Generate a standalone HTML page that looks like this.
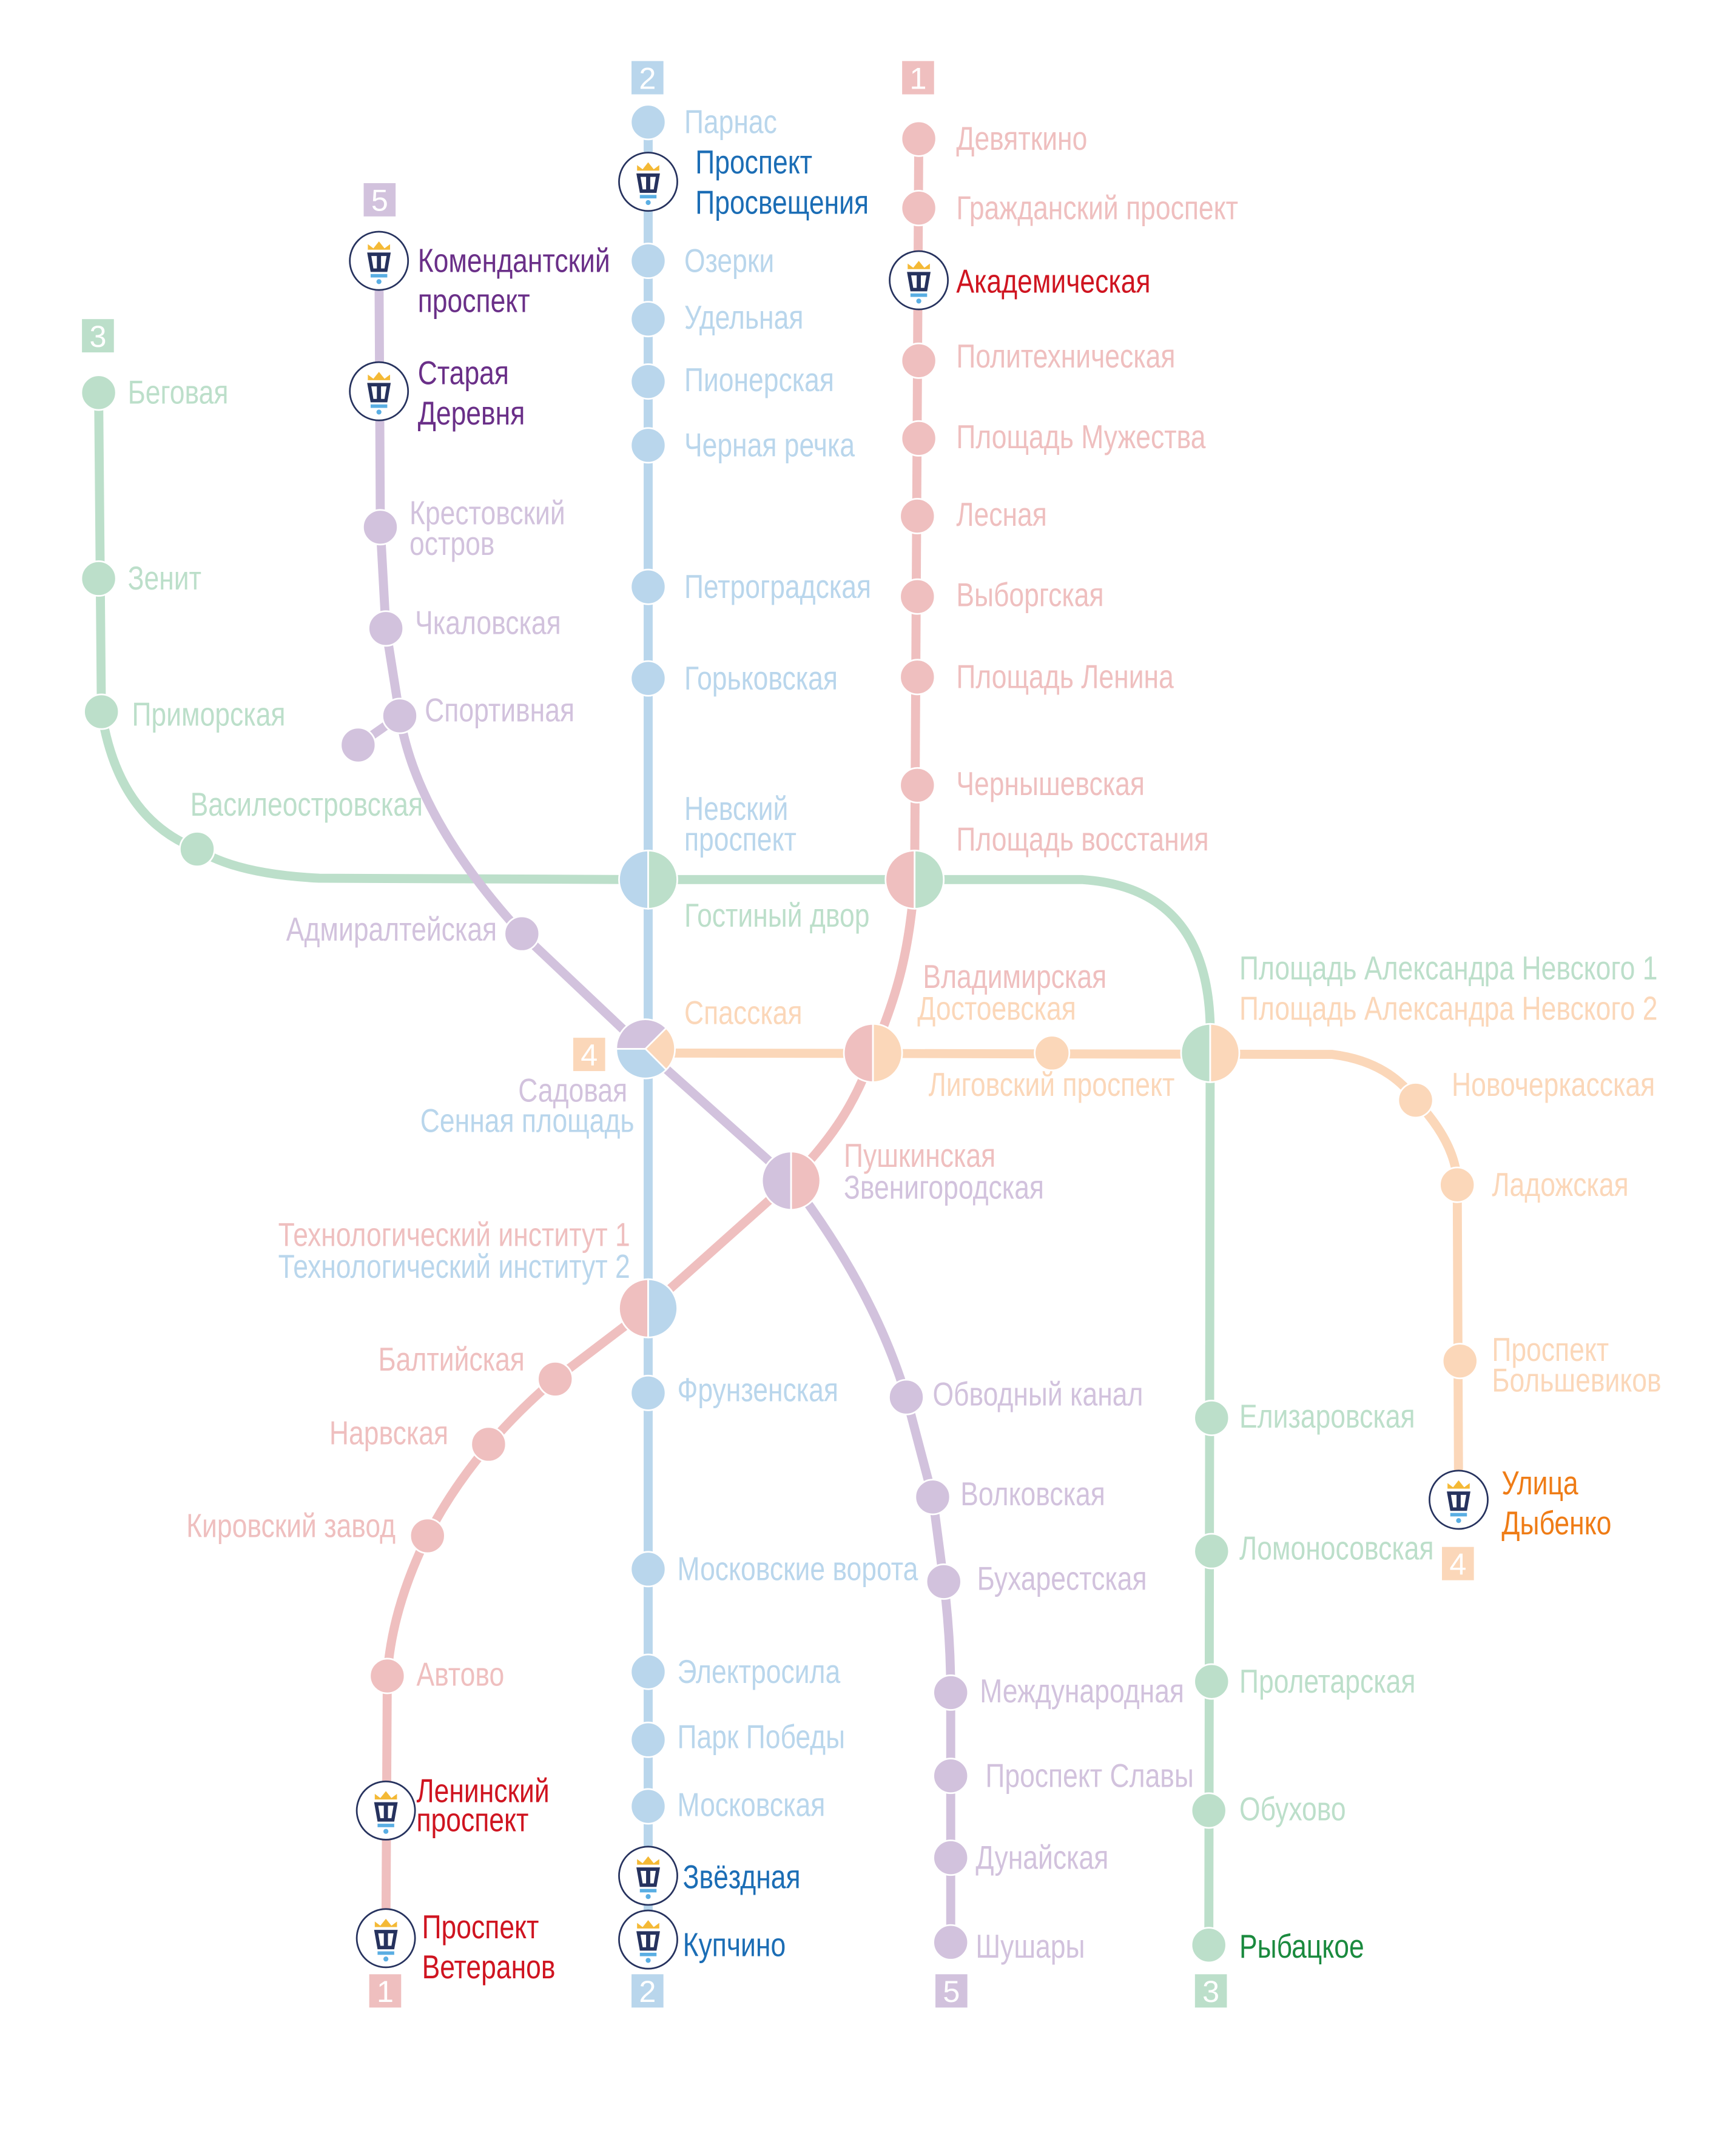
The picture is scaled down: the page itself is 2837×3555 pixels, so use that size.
<!DOCTYPE html>
<html><head><meta charset="utf-8"><style>
html,body{margin:0;padding:0;background:#fff}
svg{display:block}
text{font-family:"Liberation Sans Narrow","Liberation Sans",sans-serif;font-size:24px;transform-box:fill-box;transform-origin:left center;transform:scaleX(.81)}
.b{fill:#b9d6ec}.g{fill:#bcdfca}.r{fill:#efbfbf}.o{fill:#fbd7b9}.p{fill:#d2c2dd}
.B{fill:#1b6db5}.G{fill:#1a8a3e}.R{fill:#cf1420}.O{fill:#ef7c16}.P{fill:#6a2f88}
text.e{text-anchor:end;transform-origin:right center}
text.n{fill:#fff;font-size:22px;text-anchor:middle;transform:none}
</style></head><body>
<svg width="2837" height="3555" viewBox="0 0 1240 1554" xmlns="http://www.w3.org/2000/svg">
<defs>
<g id="ic">
<circle r="21" fill="#fff" stroke="#26325e" stroke-width="1.2"/>
<path d="M-8,-12 L-8,-8 L8,-8 L8,-12 L4,-9 L0,-14 L-4,-9 Z" fill="#f4b935"/>
<path d="M-8.5,-6 L8.5,-6 L6,8 L-6,8 Z M-5.5,-3.5 L-4,5.5 L-1.5,5.5 L-1.5,-3.5 Z M1.5,-3.5 L1.5,5.5 L4,5.5 L5.5,-3.5 Z" fill="#26325e" fill-rule="evenodd"/>
<rect x="-6" y="9.5" width="12" height="2.5" fill="#5aaee3"/>
<circle cx="0" cy="15" r="1.8" fill="#5aaee3"/>
</g>
</defs>
<g fill="none" stroke-width="6.5" stroke-linejoin="round">
<path d="M467,88 L467,1398" stroke="#b9d6ec"/>
<path d="M71,283 L73,513 Q85,590 142,612 Q170,630 230,633 L467,634 L659,634 L780,634 Q870,640 872,740 L871,1402" stroke="#bcdfca"/>
<path d="M662,100 L659,634 C655,690 645,720 629,759 C615,800 595,825 570,851 L467,943 L400,994 Q340,1045 308,1107 Q282,1160 279,1208 L278,1397" stroke="#efbfbf"/>
<path d="M467,759 L960,760 Q1000,765 1020,793 Q1050,825 1050,854 L1051,1081" stroke="#fbd7b9"/>
<path d="M273,188 L274,380 L278,453 L288,516 Q300,590 376,673 L467,759 L570,851 Q630,930 653,1007 L672,1079 L680,1140 Q685,1180 685,1220 L685,1400 M288,516 L258,537" stroke="#d2c2dd"/>
</g>
<g stroke="#fff" stroke-width="1.2">
<g fill="#b9d6ec"><circle cx="467" cy="88" r="12.5"/><circle cx="467" cy="188" r="12.5"/><circle cx="467" cy="230" r="12.5"/><circle cx="467" cy="275" r="12.5"/><circle cx="467" cy="321" r="12.5"/><circle cx="467" cy="423" r="12.5"/><circle cx="467" cy="489" r="12.5"/><circle cx="467" cy="1004" r="12.5"/><circle cx="467" cy="1131" r="12.5"/><circle cx="467" cy="1205" r="12.5"/><circle cx="467" cy="1254" r="12.5"/><circle cx="467" cy="1302" r="12.5"/></g>
<g fill="#efbfbf"><circle cx="662" cy="100" r="12.5"/><circle cx="662" cy="150" r="12.5"/><circle cx="662" cy="260" r="12.5"/><circle cx="662" cy="316" r="12.5"/><circle cx="661" cy="372" r="12.5"/><circle cx="661" cy="430" r="12.5"/><circle cx="661" cy="488" r="12.5"/><circle cx="661" cy="566" r="12.5"/><circle cx="400" cy="994" r="12.5"/><circle cx="352" cy="1041" r="12.5"/><circle cx="308" cy="1107" r="12.5"/><circle cx="279" cy="1208" r="12.5"/></g>
<g fill="#bcdfca"><circle cx="71" cy="283" r="12.5"/><circle cx="71" cy="417" r="12.5"/><circle cx="73" cy="513" r="12.5"/><circle cx="142" cy="612" r="12.5"/><circle cx="873" cy="1022" r="12.5"/><circle cx="873" cy="1118" r="12.5"/><circle cx="873" cy="1212" r="12.5"/><circle cx="871" cy="1305" r="12.5"/><circle cx="871" cy="1402" r="12.5"/></g>
<g fill="#fbd7b9"><circle cx="758" cy="759" r="12.5"/><circle cx="1020" cy="793" r="12.5"/><circle cx="1050" cy="854" r="12.5"/><circle cx="1052" cy="981" r="12.5"/></g>
<g fill="#d2c2dd"><circle cx="274" cy="380" r="12.5"/><circle cx="278" cy="453" r="12.5"/><circle cx="288" cy="516" r="12.5"/><circle cx="258" cy="537" r="12.5"/><circle cx="376" cy="673" r="12.5"/><circle cx="653" cy="1007" r="12.5"/><circle cx="672" cy="1079" r="12.5"/><circle cx="680" cy="1140" r="12.5"/><circle cx="685" cy="1220" r="12.5"/><circle cx="685" cy="1280" r="12.5"/><circle cx="685" cy="1339" r="12.5"/><circle cx="685" cy="1400" r="12.5"/></g>
<path d="M467,613 A21,21 0 0,0 467,655 Z" fill="#b9d6ec"/><path d="M467,613 A21,21 0 0,1 467,655 Z" fill="#bcdfca"/>
<path d="M659,613 A21,21 0 0,0 659,655 Z" fill="#efbfbf"/><path d="M659,613 A21,21 0 0,1 659,655 Z" fill="#bcdfca"/>
<path d="M629,738 A21,21 0 0,0 629,780 Z" fill="#efbfbf"/><path d="M629,738 A21,21 0 0,1 629,780 Z" fill="#fbd7b9"/>
<path d="M872,738 A21,21 0 0,0 872,780 Z" fill="#bcdfca"/><path d="M872,738 A21,21 0 0,1 872,780 Z" fill="#fbd7b9"/>
<path d="M570,830 A21,21 0 0,0 570,872 Z" fill="#d2c2dd"/><path d="M570,830 A21,21 0 0,1 570,872 Z" fill="#efbfbf"/>
<path d="M467,922 A21,21 0 0,0 467,964 Z" fill="#efbfbf"/><path d="M467,922 A21,21 0 0,1 467,964 Z" fill="#b9d6ec"/>
<path d="M465,756 L444,756 A21,21 0 0,1 480,741 Z" fill="#d2c2dd"/>
<path d="M465,756 L480,741 A21,21 0 0,1 480,771 Z" fill="#fbd7b9"/>
<path d="M465,756 L480,771 A21,21 0 0,1 444,756 Z" fill="#b9d6ec"/>
</g>
<use href="#ic" x="467" y="131"/><use href="#ic" x="467" y="1352"/><use href="#ic" x="467" y="1398"/>
<use href="#ic" x="662" y="202"/><use href="#ic" x="278" y="1305"/><use href="#ic" x="278" y="1397"/>
<use href="#ic" x="273" y="188"/><use href="#ic" x="273" y="282"/><use href="#ic" x="1051" y="1081"/>
<rect x="455" y="44" width="23" height="24" fill="#b9d6ec"/><text class="n" x="466.5" y="64">2</text>
<rect x="455" y="1423" width="23" height="24" fill="#b9d6ec"/><text class="n" x="466.5" y="1443">2</text>
<rect x="650" y="44" width="23" height="24" fill="#efbfbf"/><text class="n" x="661.5" y="64">1</text>
<rect x="266" y="1423" width="23" height="24" fill="#efbfbf"/><text class="n" x="277.5" y="1443">1</text>
<rect x="59" y="230" width="23" height="24" fill="#bcdfca"/><text class="n" x="70.5" y="250">3</text>
<rect x="861" y="1423" width="23" height="24" fill="#bcdfca"/><text class="n" x="872.5" y="1443">3</text>
<rect x="262" y="132" width="23" height="24" fill="#d2c2dd"/><text class="n" x="273.5" y="152">5</text>
<rect x="674" y="1423" width="23" height="24" fill="#d2c2dd"/><text class="n" x="685.5" y="1443">5</text>
<rect x="413" y="748" width="23" height="24" fill="#fbd7b9"/><text class="n" x="424.5" y="768">4</text>
<rect x="1039" y="1115" width="23" height="24" fill="#fbd7b9"/><text class="n" x="1050.5" y="1135">4</text>
<text class="b" x="493" y="96">Парнас</text>
<text class="B" x="501" y="125">Проспект</text><text class="B" x="501" y="154">Просвещения</text>
<text class="b" x="493" y="196">Озерки</text>
<text class="b" x="493" y="237">Удельная</text>
<text class="b" x="493" y="282">Пионерская</text>
<text class="b" x="493" y="329">Черная речка</text>
<text class="b" x="493" y="431">Петроградская</text>
<text class="b" x="493" y="497">Горьковская</text>
<text class="b" x="493" y="591">Невский</text><text class="b" x="493" y="613">проспект</text>
<text class="g" x="493" y="668">Гостиный двор</text>
<text class="o" x="493" y="738">Спасская</text>
<text class="p e" x="452" y="794">Садовая</text>
<text class="b e" x="457" y="816">Сенная площадь</text>
<text class="r e" x="454" y="898">Технологический институт 1</text>
<text class="b e" x="454" y="921">Технологический институт 2</text>
<text class="b" x="488" y="1010">Фрунзенская</text>
<text class="b" x="488" y="1139">Московские ворота</text>
<text class="b" x="488" y="1213">Электросила</text>
<text class="b" x="488" y="1260">Парк Победы</text>
<text class="b" x="488" y="1309">Московская</text>
<text class="B" x="492" y="1361">Звёздная</text>
<text class="B" x="492" y="1410">Купчино</text>
<text class="r" x="689" y="108">Девяткино</text>
<text class="r" x="689" y="158">Гражданский проспект</text>
<text class="R" x="689" y="211">Академическая</text>
<text class="r" x="689" y="265">Политехническая</text>
<text class="r" x="689" y="323">Площадь Мужества</text>
<text class="r" x="689" y="379">Лесная</text>
<text class="r" x="689" y="437">Выборгская</text>
<text class="r" x="689" y="496">Площадь Ленина</text>
<text class="r" x="689" y="573">Чернышевская</text>
<text class="r" x="689" y="613">Площадь восстания</text>
<text class="r" x="665" y="712">Владимирская</text>
<text class="o" x="661" y="735">Достоевская</text>
<text class="o" x="669" y="790">Лиговский проспект</text>
<text class="r" x="608" y="841">Пушкинская</text>
<text class="p" x="608" y="864">Звенигородская</text>
<text class="r e" x="378" y="988">Балтийская</text>
<text class="r e" x="323" y="1041">Нарвская</text>
<text class="r e" x="285" y="1108">Кировский завод</text>
<text class="r" x="300" y="1215">Автово</text>
<text class="R" x="300" y="1299">Ленинский</text><text class="R" x="300" y="1320">проспект</text>
<text class="R" x="304" y="1397">Проспект</text><text class="R" x="304" y="1426">Ветеранов</text>
<text class="g" x="92" y="291">Беговая</text>
<text class="g" x="92" y="425">Зенит</text>
<text class="g" x="95" y="523">Приморская</text>
<text class="g" x="137" y="588">Василеостровская</text>
<text class="g" x="893" y="706">Площадь Александра Невского 1</text>
<text class="o" x="893" y="735">Площадь Александра Невского 2</text>
<text class="g" x="893" y="1029">Елизаровская</text>
<text class="g" x="893" y="1124">Ломоносовская</text>
<text class="g" x="893" y="1220">Пролетарская</text>
<text class="g" x="893" y="1312">Обухово</text>
<text class="G" x="893" y="1411">Рыбацкое</text>
<text class="o" x="1046" y="790">Новочеркасская</text>
<text class="o" x="1075" y="862">Ладожская</text>
<text class="o" x="1075" y="981">Проспект</text><text class="o" x="1075" y="1003">Большевиков</text>
<text class="O" x="1082" y="1077">Улица</text><text class="O" x="1082" y="1106">Дыбенко</text>
<text class="P" x="301" y="196">Комендантский</text><text class="P" x="301" y="225">проспект</text>
<text class="P" x="301" y="277">Старая</text><text class="P" x="301" y="306">Деревня</text>
<text class="p" x="295" y="378">Крестовский</text><text class="p" x="295" y="400">остров</text>
<text class="p" x="299" y="457">Чкаловская</text>
<text class="p" x="306" y="520">Спортивная</text>
<text class="p e" x="358" y="678">Адмиралтейская</text>
<text class="p" x="672" y="1013">Обводный канал</text>
<text class="p" x="692" y="1085">Волковская</text>
<text class="p" x="704" y="1146">Бухарестская</text>
<text class="p" x="706" y="1227">Международная</text>
<text class="p" x="710" y="1288">Проспект Славы</text>
<text class="p" x="703" y="1347">Дунайская</text>
<text class="p" x="703" y="1411">Шушары</text>
</svg>
</body></html>
